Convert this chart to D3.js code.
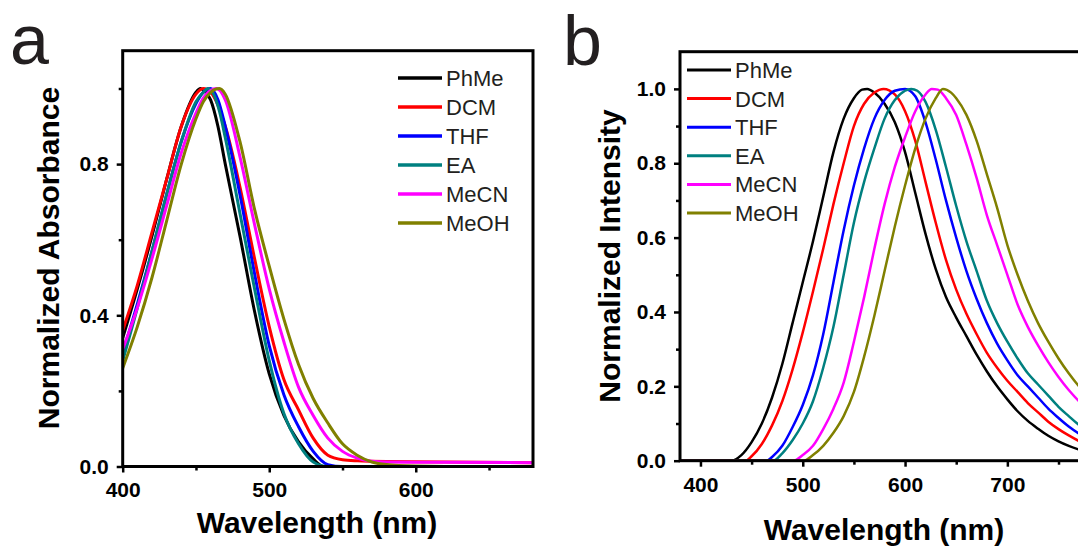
<!DOCTYPE html>
<html>
<head>
<meta charset="utf-8">
<title>Normalized absorbance and emission</title>
<style>
  body { margin: 0; background: #fff; }
  .axis path, .axis line { fill: none; stroke: #000; stroke-width: 2.5; }
  .axis text { font-family: "Liberation Sans", Arial, sans-serif; font-size: 21px; font-weight: bold; fill: #000; }
  .title { font-family: "Liberation Sans", Arial, sans-serif; font-size: 30px; font-weight: bold; fill: #000; }
  .legend text { font-family: "Liberation Sans", Arial, sans-serif; font-size: 22px; fill: #231f20; }
  .letter { font-family: "Liberation Sans", Arial, sans-serif; font-size: 70px; fill: #231f20; }
</style>
<script src="https://d3js.org/d3.v7.min.js"></script>
</head>
<body>
<script>
// solvents and colours
var solvents = ['PhMe', 'DCM', 'THF', 'EA', 'MeCN', 'MeOH'];
var colors = ['#000000', '#ff0000', '#0000ff', '#008080', '#ff00ff', '#808000'];

// (a) normalized absorbance, [wavelength nm, value]
var absPhMe = [[400,.34],[410,.47],[420,.61],[430,.76],[440,.90],[450,.99],[453,1.0],[456,.993],[460,.97],[465,.90],[470,.80],[480,.61],[490,.41],[500,.245],[510,.135],[520,.065],[530,.02],[537,0],[560,0],[600,0],[680,0]];
var absDCM  = [[400,.36],[410,.48],[420,.62],[430,.76],[440,.90],[450,.985],[455,1.0],[460,.99],[470,.90],[480,.74],[490,.55],[500,.37],[510,.23],[520,.15],[530,.075],[540,.03],[550,.018],[560,.015],[580,.013],[620,.012],[680,.01]];
var absTHF  = [[400,.30],[410,.43],[420,.57],[430,.72],[440,.86],[450,.96],[455,.99],[460,1.0],[465,.97],[470,.90],[480,.72],[490,.51],[500,.32],[510,.19],[520,.105],[530,.04],[540,.005],[550,0],[600,0],[680,0]];
var absEA   = [[400,.28],[410,.42],[420,.57],[430,.72],[440,.86],[450,.965],[455,.99],[458,1.0],[462,.985],[466,.94],[470,.87],[480,.67],[490,.47],[500,.28],[510,.14],[520,.06],[530,.012],[540,0],[600,0],[680,0]];
var absMeCN = [[400,.31],[410,.42],[420,.55],[430,.69],[440,.83],[450,.935],[455,.975],[460,.995],[464,1.0],[470,.97],[480,.82],[490,.64],[500,.47],[510,.33],[520,.21],[530,.135],[540,.075],[550,.04],[560,.022],[570,.014],[580,.012],[620,.011],[680,.01]];
var absMeOH = [[400,.26],[410,.37],[420,.50],[430,.65],[440,.80],[450,.92],[455,.965],[460,.99],[466,1.0],[470,.985],[480,.86],[490,.68],[500,.53],[510,.39],[520,.27],[530,.18],[540,.115],[550,.06],[560,.03],[570,.012],[580,.005],[600,.001],[620,0],[680,0]];

// (b) normalized emission intensity, [wavelength nm, value]
var emPhMe = [[380,0],[430,0],[440,.015],[450,.05],[460,.10],[470,.17],[480,.26],[490,.37],[500,.48],[510,.59],[520,.71],[530,.83],[540,.92],[550,.975],[558,.998],[563,1.0],[570,.99],[580,.96],[590,.91],[600,.83],[610,.72],[620,.61],[630,.515],[640,.44],[650,.385],[660,.335],[670,.285],[680,.24],[690,.20],[700,.165],[710,.133],[720,.107],[730,.086],[740,.067],[750,.052],[760,.04],[770,.03],[780,.022],[800,.011]];
var emDCM  = [[380,0],[444,0],[450,.012],[460,.045],[470,.095],[480,.16],[490,.245],[500,.345],[510,.455],[520,.57],[530,.69],[540,.80],[550,.90],[560,.96],[570,.99],[579,1.0],[590,.985],[600,.94],[610,.86],[620,.75],[630,.64],[640,.54],[650,.46],[660,.395],[670,.34],[680,.29],[690,.25],[700,.215],[710,.185],[720,.155],[730,.13],[740,.105],[750,.085],[760,.068],[770,.053],[780,.041],[800,.024]];
var emTHF  = [[380,0],[465,0],[470,.01],[480,.04],[490,.09],[500,.15],[510,.23],[520,.34],[530,.48],[540,.62],[550,.74],[560,.84],[570,.92],[580,.97],[590,.995],[600,1.0],[610,.98],[620,.91],[630,.81],[640,.70],[650,.60],[660,.51],[670,.435],[680,.37],[690,.315],[700,.27],[710,.23],[720,.20],[730,.17],[740,.14],[750,.115],[760,.092],[770,.073],[780,.058],[800,.035]];
var emEA   = [[380,0],[471,0],[480,.02],[490,.055],[500,.10],[510,.16],[520,.25],[530,.36],[540,.50],[550,.64],[560,.75],[570,.84],[580,.92],[590,.97],[600,.995],[606,1.0],[612,.995],[620,.965],[630,.89],[640,.79],[650,.685],[660,.59],[670,.51],[680,.43],[690,.37],[700,.32],[710,.275],[720,.235],[730,.205],[740,.175],[750,.145],[760,.12],[770,.096],[780,.077],[800,.05]];
var emMeCN = [[380,0],[491,0],[500,.015],[510,.04],[520,.085],[530,.14],[540,.21],[550,.32],[560,.44],[570,.57],[580,.69],[590,.79],[600,.87],[610,.94],[620,.985],[626,1.0],[632,.998],[640,.975],[650,.93],[660,.85],[670,.76],[680,.66],[690,.58],[700,.50],[710,.42],[720,.36],[730,.31],[740,.265],[750,.225],[760,.19],[770,.16],[780,.135],[800,.095]];
var emMeOH = [[380,0],[501,0],[510,.015],[520,.04],[530,.075],[540,.12],[550,.185],[560,.28],[570,.39],[580,.51],[590,.63],[600,.74],[610,.84],[620,.92],[630,.975],[637,1.0],[645,.99],[650,.975],[660,.93],[670,.86],[680,.77],[690,.68],[700,.58],[710,.50],[720,.43],[730,.37],[740,.32],[750,.275],[760,.235],[770,.20],[780,.17],[800,.12]];

// ticks
var absXTicks = [400, 500, 600], absXMinor = [450, 550, 650];
var absYTicks = [0, 0.4, 0.8], absYMinor = [0.2, 0.6, 1.0];
var emXTicks = [400, 500, 600, 700], emXMinor = [450, 550, 650, 750];
var emYTicks = [0, 0.2, 0.4, 0.6, 0.8, 1.0], emYMinor = [0.1, 0.3, 0.5, 0.7, 0.9];

var W = 1078, H = 547;
var svg = d3.select('body').append('svg')
  .attr('width', W).attr('height', H);

function drawPanel(p) {
  var x = d3.scaleLinear().domain(p.xDomain).range([p.left, p.right]);
  var y = d3.scaleLinear().domain([0, 1.1]).range([p.bottom, p.top]);
  var g = svg.append('g');

  g.append('clipPath').attr('id', p.id + '-clip')
    .append('rect')
    .attr('x', p.left).attr('y', p.top)
    .attr('width', p.right - p.left).attr('height', p.bottom - p.top);

  var line = d3.line()
    .x(d => x(d[0]))
    .y(d => y(d[1]))
    .curve(d3.curveMonotoneX);

  g.append('g').attr('clip-path', 'url(#' + p.id + '-clip)')
    .selectAll('path')
    .data(p.series)
    .enter()
    .append('path')
    .attr('d', d => line(d))
    .attr('fill', 'none')
    .attr('stroke', (d, i) => colors[i])
    .attr('stroke-width', p.lineWidth)
    .attr('stroke-linejoin', 'round');

  // axes: major then minor ticks
  var xAx = g.append('g').attr('class', 'axis')
    .attr('transform', 'translate(0,' + p.bottom + ')')
    .call(d3.axisBottom(x).tickValues(p.xTicks).tickSize(6).tickPadding(10).tickFormat(d3.format('d')));
  var xMin = g.append('g').attr('class', 'axis')
    .attr('transform', 'translate(0,' + p.bottom + ')')
    .call(d3.axisBottom(x).tickValues(p.xMinor).tickSize(4).tickFormat(''));
  var yAx = g.append('g').attr('class', 'axis')
    .attr('transform', 'translate(' + p.left + ',0)')
    .call(d3.axisLeft(y).tickValues(p.yTicks).tickSize(6).tickPadding(8).tickFormat(d3.format('.1f')));
  var yMin = g.append('g').attr('class', 'axis')
    .attr('transform', 'translate(' + p.left + ',0)')
    .call(d3.axisLeft(y).tickValues(p.yMinor).tickSize(4).tickFormat(''));
  [xAx, xMin, yAx, yMin].forEach(a => a.select('.domain').remove());

  // frame
  g.append('rect')
    .attr('x', p.left).attr('y', p.top)
    .attr('width', p.right - p.left).attr('height', p.bottom - p.top)
    .attr('fill', 'none').attr('stroke', '#000').attr('stroke-width', 3);

  // titles
  g.append('text').attr('class', 'title')
    .attr('x', p.xTitle[0]).attr('y', p.xTitle[1])
    .attr('text-anchor', 'middle')
    .text('Wavelength (nm)');
  g.append('text').attr('class', 'title')
    .attr('transform', 'translate(' + p.yTitle[0] + ',' + p.yTitle[1] + ') rotate(-90)')
    .attr('text-anchor', 'middle')
    .text(p.yLabel);

  // legend
  var lg = g.append('g').attr('class', 'legend');
  var rows = lg.selectAll('g').data(solvents).enter().append('g')
    .attr('transform', (d, i) => 'translate(' + p.legend.x + ',' + (p.legend.y + i * p.legend.step) + ')');
  rows.append('line')
    .attr('x1', 0).attr('x2', 44).attr('y1', 0).attr('y2', 0)
    .attr('stroke', (d, i) => colors[i])
    .attr('stroke-width', p.lineWidth + 0.5);
  rows.append('text')
    .attr('x', 48).attr('y', 8)
    .text(d => d);

  svg.append('text').attr('class', 'letter')
    .attr('x', p.letter[0]).attr('y', p.letter[1])
    .text(p.letterText);
}

drawPanel({
  id: 'abs',
  xDomain: [400, 680],
  left: 122.7, right: 533, top: 50.7, bottom: 466.5,
  series: [absPhMe, absDCM, absTHF, absEA, absMeCN, absMeOH],
  xTicks: absXTicks, xMinor: absXMinor, yTicks: absYTicks, yMinor: absYMinor,
  lineWidth: 3,
  yLabel: 'Normalized Absorbance',
  xTitle: [317, 533], yTitle: [59, 258],
  legend: { x: 398, y: 78, step: 29 },
  letter: [10, 64], letterText: 'a'
});

drawPanel({
  id: 'em',
  xDomain: [380, 800],
  left: 680, right: 680 + 420 * 1.023, top: 51.7, bottom: 460.7,
  series: [emPhMe, emDCM, emTHF, emEA, emMeCN, emMeOH],
  xTicks: emXTicks, xMinor: emXMinor, yTicks: emYTicks, yMinor: emYMinor,
  lineWidth: 2.5,
  yLabel: 'Normalized Intensity',
  xTitle: [884, 540], yTitle: [620, 256],
  legend: { x: 687, y: 70, step: 28.6 },
  letter: [563, 65], letterText: 'b'
});
</script>
</body>
</html>
